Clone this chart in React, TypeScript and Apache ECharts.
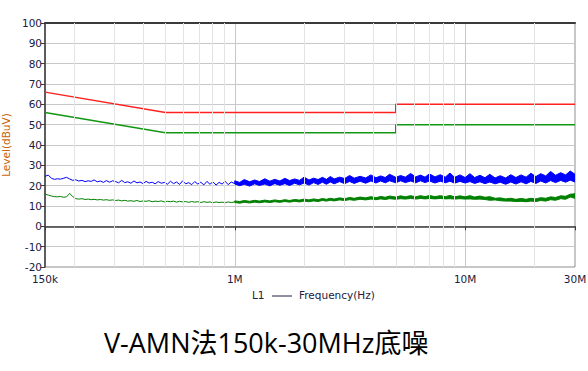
import React, { useEffect, useRef } from "react";
import * as echarts from "echarts";

// ---- Data (frequencies in MHz, levels in dBuV) ----
const qpLimitMHz = [0.15, 0.5, 5, 5, 30];
const qpLimit = [66, 56, 56, 60, 60];
const avLimitMHz = [0.15, 0.5, 5, 5, 30];
const avLimit = [56, 46, 46, 50, 50];

const thinMHz = [
  0.15, 0.155, 0.16, 0.165, 0.17, 0.175, 0.18, 0.186, 0.192, 0.198, 0.204, 0.21, 0.217, 0.224, 0.231, 0.238,
  0.245, 0.253, 0.261, 0.269, 0.277, 0.286, 0.295, 0.304, 0.313, 0.323, 0.333, 0.343, 0.354, 0.365, 0.376,
  0.388, 0.4, 0.412, 0.425, 0.438, 0.451, 0.465, 0.48, 0.495, 0.51, 0.526, 0.542, 0.559, 0.576, 0.594, 0.612,
  0.631, 0.65, 0.67, 0.691, 0.712, 0.734, 0.757, 0.78, 0.804, 0.829, 0.855, 0.881, 0.908, 0.936, 0.965, 1.0,
];
const blueThin = [
  24.6, 25.2, 23.6, 23.1, 23.4, 23.2, 23.6, 24.1, 23.3, 22.6, 22.9, 22.3, 22.6, 22.0, 22.4, 22.1,
  22.8, 21.9, 22.3, 21.6, 22.5, 21.7, 22.4, 22.0, 21.4, 22.6, 21.5, 21.9, 21.2, 22.3, 21.4,
  21.8, 21.0, 22.1, 21.3, 21.7, 20.9, 22.0, 21.2, 21.6, 20.7, 22.2, 21.0, 21.8, 20.6, 22.4, 20.9,
  21.5, 20.5, 22.0, 20.8, 21.7, 20.4, 22.1, 20.7, 21.9, 20.3, 21.6, 20.8, 22.2, 20.5, 21.8, 21.0,
];
const greenThin = [
  15.8, 15.4, 14.9, 14.6, 14.5, 14.7, 14.3, 14.5, 16.2, 14.6, 13.6, 13.4, 13.6, 13.2, 13.4, 13.1,
  13.3, 13.0, 13.2, 12.9, 13.1, 12.8, 13.0, 12.7, 12.9, 12.5, 12.8, 12.4, 12.6, 12.3, 12.7,
  12.2, 12.5, 12.3, 12.6, 12.1, 12.4, 12.2, 12.5, 12.0, 12.3, 12.1, 12.4, 11.9, 12.3, 12.0, 12.2,
  11.8, 12.2, 11.9, 12.1, 11.7, 12.1, 11.8, 12.0, 11.6, 12.0, 11.7, 11.9, 11.6, 12.0, 11.7, 12.0,
];

const bandMHz = [
  1.0, 1.05, 1.1, 1.16, 1.22, 1.28, 1.35, 1.42, 1.49, 1.57,
  1.65, 1.73, 1.82, 1.91, 2.0, 2.1, 2.2, 2.3, 2.4, 2.5,
  2.6, 2.7, 2.85, 3.0, 3.15, 3.3, 3.5, 3.7, 3.9, 4.1,
  4.3, 4.5, 4.7, 5.0, 5.25, 5.5, 5.8, 6.1, 6.4, 6.7,
  7.0, 7.4, 7.8, 8.2, 8.6, 9.0, 9.5, 10, 10.5, 11,
  11.6, 12.2, 12.8, 13.5, 14.2, 15, 15.8, 16.6, 17.5, 18.4,
  19.3, 20.3, 21.3, 22.4, 23.5, 24.7, 26, 27.3, 28.6, 30,
];
const blueHi = [
  22.4, 21.6, 23.0, 21.9, 22.8, 22.0, 23.4, 22.2, 23.1, 22.3,
  23.6, 22.5, 23.3, 22.6, 24.2, 22.8, 23.7, 23.0, 24.1, 23.1,
  24.5, 23.3, 24.2, 23.5, 25.0, 23.7, 24.6, 23.8, 25.3, 23.9,
  24.8, 24.0, 25.6, 24.1, 25.0, 24.2, 26.0, 24.3, 25.2, 24.2,
  25.8, 24.3, 25.4, 24.2, 26.2, 24.1, 25.3, 24.0, 25.9, 24.0,
  25.1, 23.9, 25.6, 23.8, 24.9, 23.8, 25.4, 24.0, 25.3, 24.2,
  26.1, 24.5, 25.9, 24.8, 27.0, 25.1, 26.4, 25.3, 27.2, 25.6,
];
const blueLo = [
  20.8, 20.0, 20.7, 19.8, 20.9, 20.1, 20.8, 19.9, 21.0, 20.2,
  21.0, 20.1, 21.2, 20.4, 21.3, 20.3, 21.5, 20.6, 21.7, 20.7,
  21.8, 20.9, 22.0, 21.0, 22.1, 21.1, 22.2, 21.2, 22.3, 21.3,
  22.3, 21.4, 22.4, 21.4, 22.4, 21.5, 22.3, 21.4, 22.4, 21.5,
  22.3, 21.3, 22.2, 21.4, 22.2, 21.2, 22.1, 21.3, 22.0, 21.1,
  21.9, 21.0, 21.8, 20.9, 21.7, 20.7, 21.8, 20.8, 21.9, 20.9,
  22.1, 21.1, 22.3, 21.3, 22.5, 21.5, 22.6, 21.7, 22.7, 21.8,
];
const greenHi = [
  12.5, 12.2, 12.7, 12.3, 12.8, 12.4, 12.9, 12.5, 13.0, 12.6,
  13.1, 12.7, 13.2, 12.9, 13.4, 13.0, 13.5, 13.1, 13.7, 13.3,
  13.8, 13.4, 14.0, 13.6, 14.2, 13.8, 14.4, 14.0, 14.6, 14.1,
  14.7, 14.3, 14.9, 14.4, 15.0, 14.5, 15.1, 14.5, 15.1, 14.6,
  15.2, 14.6, 15.1, 14.6, 15.2, 14.5, 15.0, 14.5, 15.1, 14.4,
  14.9, 14.3, 14.6, 13.8, 14.0, 13.5, 13.8, 13.3, 13.7, 13.3,
  13.8, 13.5, 14.1, 13.8, 14.5, 14.2, 15.0, 14.8, 15.8, 16.0,
];
const greenLo = [
  11.7, 11.4, 11.8, 11.5, 11.9, 11.6, 12.0, 11.7, 12.1, 11.8,
  12.2, 11.9, 12.3, 12.0, 12.4, 12.1, 12.5, 12.2, 12.7, 12.4,
  12.8, 12.5, 13.0, 12.7, 13.1, 12.8, 13.3, 13.0, 13.4, 13.1,
  13.5, 13.2, 13.6, 13.3, 13.6, 13.4, 13.7, 13.4, 13.7, 13.5,
  13.7, 13.5, 13.7, 13.5, 13.6, 13.4, 13.6, 13.4, 13.5, 13.3,
  13.4, 13.2, 12.8, 13.0, 12.6, 12.4, 12.4, 12.2, 12.3, 12.1,
  12.4, 12.2, 12.7, 12.4, 13.1, 12.8, 13.6, 13.3, 14.4, 13.8,
];

const minorGridMHz = [0.2, 0.3, 0.4, 0.5, 0.6, 0.7, 0.8, 0.9, 2, 3, 4, 5, 6, 7, 8, 9, 20];

const MHZ = 1e6;
const BLUE = "#0000ff";
const GREEN = "#008000";
const RED = "#ff2020";
const LIMIT_GREEN = "#139613";
const FONT = "'DejaVu Sans', sans-serif";

const pairs = (xs: number[], ys: number[]) => xs.map((x, i) => [x * MHZ, ys[i]]);

function fmtFreq(v: number) {
  if (v >= 1e6) return Math.round(v / 1e6) + "M";
  return Math.round(v / 1e3) + "k";
}

function bandSeries(name: string, hi: number[], lo: number[], color: string) {
  return {
    type: "custom",
    name,
    silent: true,
    z: 3,
    clip: true,
    data: [[bandMHz[0] * MHZ, lo[0]]],
    encode: { x: 0, y: 1 },
    renderItem: (_params: any, api: any) => {
      const pts: number[][] = [];
      for (let i = 0; i < bandMHz.length; i++) pts.push(api.coord([bandMHz[i] * MHZ, hi[i]]));
      for (let i = bandMHz.length - 1; i >= 0; i--) pts.push(api.coord([bandMHz[i] * MHZ, lo[i]]));
      return {
        type: "polygon",
        shape: { points: pts },
        style: { fill: color, stroke: color, lineWidth: 1 },
      };
    },
  };
}

export default function App() {
  const ref = useRef<HTMLDivElement>(null);
  useEffect(() => {
    if (!ref.current) return;
    const chart = echarts.init(ref.current, undefined, { renderer: "svg" });
    const lineBase = { type: "line", showSymbol: false, symbol: "none", silent: true };
    chart.setOption({
      animation: false,
      backgroundColor: "#ffffff",
      title: {
        text: "V-AMN法150k-30MHz底噪",
        left: 104,
        top: 329,
        padding: 0,
        textStyle: { fontSize: 27, fontWeight: "normal", color: "#000", fontFamily: "'Open Sans', 'Noto Sans CJK SC', sans-serif" },
      },
      grid: {
        left: 45, right: 13, top: 23, bottom: 104,
        outerBoundsMode: "none", containLabel: false,
        show: true, borderColor: "#8a8a8a", borderWidth: 1, backgroundColor: "#fff",
      },
      xAxis: [
        {
          type: "log",
          logBase: 10,
          min: 150000,
          max: 30000000,
          axisLine: { show: true, lineStyle: { color: "#3a3a3a", width: 1.5 } },
          axisTick: { show: true, length: 4, lineStyle: { color: "#3a3a3a" } },
          axisLabel: { color: "#202040", fontSize: 10.5, fontFamily: FONT, margin: 6, formatter: (v: number) => fmtFreq(v), showMinLabel: true, showMaxLabel: true },
          splitLine: { show: true, lineStyle: { color: "#c8c8c8", width: 1 } },
        },
        {
          type: "value",
          position: "top",
          min: 0,
          max: 1,
          axisLine: { show: true, lineStyle: { color: "#3a3a3a", width: 2 } },
          axisTick: { show: false },
          axisLabel: { show: false },
          splitLine: { show: false },
        },
      ],
      yAxis: {
        type: "value",
        min: -20,
        max: 100,
        interval: 10,
        name: "Level(dBuV)",
        nameLocation: "middle",
        nameGap: 32,
        nameRotate: 90,
        nameTextStyle: { color: "#c8640a", fontSize: 10.5, fontFamily: FONT },
        axisLine: { show: true, lineStyle: { color: "#3a3a3a", width: 1.5 } },
        axisTick: { show: true, length: 4, lineStyle: { color: "#3a3a3a" } },
        axisLabel: { color: "#202040", fontSize: 10.5, fontFamily: FONT, margin: 3 },
        splitLine: { show: true, lineStyle: { color: "#c8c8c8", width: 1 } },
      },
      graphic: [
        { type: "text", left: 252, top: 289, style: { text: "L1", fill: "#202040", font: `10.5px ${FONT}` } },
        { type: "line", shape: { x1: 272, y1: 296, x2: 292, y2: 296 }, style: { stroke: "#202040", lineWidth: 1 } },
        { type: "text", left: 299, top: 289, style: { text: "Frequency(Hz)", fill: "#202040", font: `10.5px ${FONT}` } },
      ],
      series: [
        {
          ...lineBase,
          name: "minorGrid",
          data: [],
          z: 1,
          markLine: {
            silent: true,
            symbol: "none",
            label: { show: false },
            lineStyle: { color: "#e3e3e3", width: 1, type: "solid" },
            data: minorGridMHz.map((m) => ({ xAxis: m * MHZ })),
          },
        },
        bandSeries("blueBand", blueHi, blueLo, BLUE),
        { ...lineBase, name: "blueThin", data: pairs(thinMHz, blueThin), z: 3, lineStyle: { color: BLUE, width: 1 } },
        bandSeries("greenBand", greenHi, greenLo, GREEN),
        { ...lineBase, name: "greenThin", data: pairs(thinMHz, greenThin), z: 3, lineStyle: { color: GREEN, width: 1 } },
        { ...lineBase, name: "qpLimit", data: pairs(qpLimitMHz, qpLimit), z: 4, lineStyle: { color: RED, width: 1.5 } },
        { ...lineBase, name: "avLimit", data: pairs(avLimitMHz, avLimit), z: 4, lineStyle: { color: LIMIT_GREEN, width: 1.5 } },
      ],
    });
    return () => chart.dispose();
  }, []);
  return <div ref={ref} style={{ position: "fixed", left: 0, top: 0, width: 588, height: 371 }} />;
}
